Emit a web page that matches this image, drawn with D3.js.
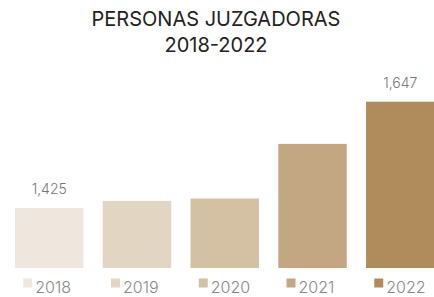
<!DOCTYPE html>
<html>
<head>
<meta charset="utf-8">
<script src="https://cdn.jsdelivr.net/npm/d3@7"></script>
<style>
  body { margin: 0; background: #fff; }
  svg { display: block; }
</style>
</head>
<body>
<div id="chart"></div>
<script>
// Chart data
var years = ["2018", "2019", "2020", "2021", "2022"];
var values = [1425, 1440, 1445, 1559, 1647];
var labels = ["1,425", "", "", "", "1,647"];
var colors = ["#efe7dd", "#e2d6c3", "#d4c1a3", "#c3a783", "#b08b5b"];
var titleLines = ["PERSONAS JUZGADORAS", "2018-2022"];

var width = 434, height = 297;
var font = "Inter, 'Open Sans', sans-serif";

var svg = d3.select("#chart")
    .append("svg")
        .attr("width", width)
        .attr("height", height);

// Scales: the value axis does not start at zero
var x = d3.scaleBand()
    .domain(years)
    .range([15, 434.5])
    .paddingInner(0.22)
    .paddingOuter(0);

var y = d3.scaleLinear()
    .domain([1300, 1647])
    .range([268, 101.7]);

// Title
svg.selectAll("text.title")
    .data(titleLines)
    .enter()
    .append("text")
        .attr("class", "title")
        .attr("x", 216)
        .attr("y", function(d, i) { return 26 + i * 26; })
        .attr("text-anchor", "middle")
        .attr("font-family", font)
        .attr("font-size", 20)
        .attr("fill", "#222")
        .text(function(d) { return d; });

// Bars
svg.selectAll("rect.bar")
    .data(values)
    .enter()
    .append("rect")
        .attr("class", "bar")
        .attr("x", function(d, i) { return x(years[i]); })
        .attr("y", function(d) { return y(d); })
        .attr("width", x.bandwidth())
        .attr("height", function(d) { return y(1300) - y(d); })
        .attr("fill", function(d, i) { return colors[i]; });

// Value labels
svg.selectAll("text.value")
    .data(values)
    .enter()
    .append("text")
        .attr("class", "value")
        .attr("x", function(d, i) { return x(years[i]) + x.bandwidth() / 2; })
        .attr("y", function(d) { return y(d) - 14; })
        .attr("text-anchor", "middle")
        .attr("font-family", font)
        .attr("font-weight", 300)
        .attr("font-size", 14)
        .attr("fill", "#777")
        .text(function(d, i) { return labels[i]; });

// Legend under each bar
var legend = svg.selectAll("g.legend")
    .data(years)
    .enter()
    .append("g")
        .attr("class", "legend")
        .attr("transform", function(d) {
            return "translate(" + (x(d) + x.bandwidth() / 2) + ",0)";
        });

legend.append("rect")
    .attr("x", -26)
    .attr("y", 278.5)
    .attr("width", 9)
    .attr("height", 9)
    .attr("fill", function(d, i) { return colors[i]; });

legend.append("text")
    .attr("x", -14)
    .attr("y", 292.5)
    .attr("font-family", font)
    .attr("font-weight", 300)
    .attr("font-size", 16)
    .attr("fill", "#888")
    .text(function(d) { return d; });
</script>
</body>
</html>
